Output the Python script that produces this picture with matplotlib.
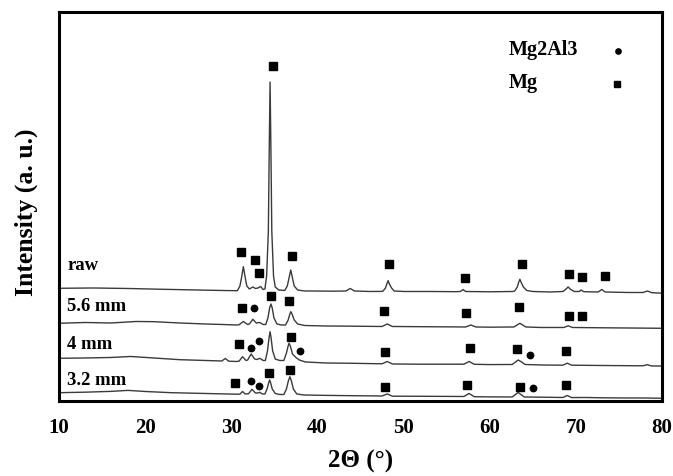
import matplotlib
matplotlib.use("Agg")
import matplotlib.pyplot as plt

plt.rcParams['font.family'] = ['Liberation Serif', 'DejaVu Serif']
plt.rcParams['font.weight'] = 'bold'

# XRD traces: 2theta (deg) and intensity (a.u., stacked)
raw_2t = [10, 14, 18, 22, 26, 29, 30.5, 30.7, 31.0, 31.2, 31.4, 31.6, 31.8, 32.1,
          32.5, 32.8, 33.1, 33.4, 33.7, 33.9, 34.1, 34.3, 34.4, 34.5, 34.6, 34.7,
          34.9, 35.1, 35.5, 36.2, 36.5, 36.7, 36.9, 37.1, 37.3, 37.7, 38.5, 39, 42,
          43.3, 43.8, 44.3, 46, 47.5, 47.6, 47.9, 48.05, 48.2, 48.35, 48.6, 48.9, 50,
          53, 56, 56.6, 56.9, 57.2, 60, 62.7, 62.9, 63.2, 63.35, 63.5, 63.65, 63.9,
          64.3, 65, 67, 68.5, 68.8, 69.1, 69.4, 69.8, 70.4, 70.6, 70.9, 72.6, 73.0,
          73.4, 76, 77.8, 78.3, 78.8, 80]
raw_int = [112.7, 113, 112.5, 111.7, 111, 110.5, 110.3, 110.3, 115, 124, 134.3, 124,
           115, 112, 114, 112.5, 113, 114.5, 111.5, 112, 125, 170, 250, 319, 250, 170,
           125, 114, 111, 110.5, 115, 123, 131, 123, 115, 111, 110, 110, 109.8,
           110, 112.5, 110, 109.5, 109.6, 109.8, 113, 117, 120.3, 117, 113, 110, 109.5,
           109.5, 109.3, 109.5, 111.5, 109.5, 109.2, 109.5, 110, 114, 118.5, 121.7,
           118.5, 114, 110.5, 109.5, 109, 109.5, 111.5, 114, 111.5, 109.5, 109.5, 111,
           109.3, 109, 111.5, 109, 108.5, 108.5, 110, 108.3, 107.8]

mm56_2t = [10, 13, 16, 19, 21, 24, 27, 29, 30.5, 30.9, 31.4, 31.9, 32.1, 32.5, 32.9,
           33.3, 33.7, 34.0, 34.25, 34.45, 34.6, 34.75, 34.95, 35.3, 35.8, 36.3, 36.6,
           36.8, 36.9, 37.05, 37.3, 37.7, 38.5, 41, 44, 47.5, 48.1, 48.7, 52, 57.2,
           57.8, 58.4, 60, 62.8, 63.5, 64.2, 66, 68.6, 69.1, 69.6, 73, 76, 80]
mm56_int = [77.7, 78.5, 78, 79.5, 79.3, 78, 77, 76.5, 76, 76.2, 79.5, 76.5, 77, 81.7,
            78, 78.5, 76.5, 76.5, 83, 93, 97, 93, 83, 77, 76, 76, 81, 87, 89.3, 87, 81,
            77, 75.5, 75, 74.8, 74.5, 77, 74.5, 74.3, 74, 76, 74, 73.8, 74, 77.7, 74,
            73.5, 73.5, 75.2, 73.5, 73.2, 73, 72.7]

mm4_2t = [10, 13, 16, 18.3, 21, 24, 27, 28.9, 29.3, 29.7, 30.6, 30.9, 31.3, 31.7,
          31.9, 32.3, 32.7, 33.0, 33.3, 33.7, 33.95, 34.2, 34.38, 34.5, 34.62, 34.8,
          35.1, 35.6, 36.1, 36.4, 36.6, 36.7, 36.85, 37.1, 37.5, 37.9, 38.6, 41, 44,
          47.5, 48.1, 48.7, 52, 57, 57.6, 58.2, 60, 62.6, 63.0, 63.3, 63.6, 64.1, 66,
          68.5, 69, 69.5, 73, 76, 77.8, 78.3, 78.8, 80]
mm4_int = [42.7, 43, 43.5, 44.5, 43, 41.3, 40.5, 40, 42.5, 39.8, 39.5, 39.8, 44.3,
           40.5, 41, 47, 42, 41.5, 42.7, 40.5, 40.5, 50, 63, 69.3, 63, 50, 42, 40.5,
           40.5, 48, 55, 57.7, 55, 47, 43.5, 41, 39, 38, 37.7, 37.2, 39.5, 37, 36.8,
           36.8, 39.5, 36.7, 36.4, 36.5, 39, 41, 39.5, 36.5, 36, 35.8, 37.8, 35.8,
           35.5, 35.3, 35.2, 36.3, 35, 35]

mm32_2t = [10, 13, 16, 18, 20, 23, 26, 28.5, 30.5, 31.0, 31.3, 31.6, 32.0, 32.4,
           32.8, 33.1, 33.3, 33.6, 33.9, 34.15, 34.33, 34.45, 34.57, 34.75, 35.1,
           35.6, 36.1, 36.4, 36.62, 36.8, 36.98, 37.2, 37.6, 38.4, 41, 44, 47.5, 48.1,
           48.7, 52, 57, 57.6, 58.2, 60, 62.6, 63.3, 64.0, 66, 68.5, 69, 69.5, 71, 73,
           76, 78, 80]
mm32_int = [8.3, 8.8, 9.6, 10.6, 9.5, 8.3, 7.7, 7.2, 6.8, 6.8, 9.5, 7, 7.2, 11.7, 8,
            8, 8.7, 7, 7, 12, 18, 21, 18, 12, 7.5, 6.5, 6.5, 12, 20, 24.3, 20, 12, 7,
            6, 5.6, 5.3, 5, 7, 4.8, 4.7, 4.5, 7.5, 4.3, 4.1, 4, 8.5, 4, 3.8, 3.5, 5.5,
            3.4, 3.5, 3.2, 3, 3, 2.7]

trace_names = ["raw", "5.6 mm", "4 mm", "3.2 mm"]
label_y = [135, 94, 56, 20]

# phase markers (2theta, height)
mg_2t = [31.16, 32.71, 33.26, 34.80, 37.06, 48.29, 57.13, 63.76, 69.19, 70.70, 73.34,
         31.24, 34.62, 36.71, 47.71, 57.21, 63.45, 69.19, 70.70,
         30.85, 36.94, 47.83, 57.71, 63.14, 68.87,
         30.47, 34.42, 36.86, 47.83, 57.33, 63.49, 68.91]
mg_y = [149, 141, 127.7, 335, 145, 136.7, 123.3, 136.7, 127, 124.3, 125.3,
        93.3, 105, 100.3, 90, 88.3, 93.7, 85, 85,
        56.7, 64.3, 49.3, 53.3, 51.7, 50.3,
        17.7, 28.3, 31, 14.3, 16, 14.3, 16]
mg2al3_2t = [32.67, 32.29, 33.26, 38.02, 64.73, 32.29, 33.17, 65.03]
mg2al3_y = [93.3, 52.7, 60, 50, 46.3, 20, 15.3, 13.3]

fig = plt.figure(figsize=(6.73, 4.76), dpi=100)
ax = fig.add_axes([0.0877, 0.1576, 0.8960, 0.8172])

for xs, ys in [(raw_2t, raw_int), (mm56_2t, mm56_int), (mm4_2t, mm4_int), (mm32_2t, mm32_int)]:
    ax.plot(xs, ys, color='#3a3a3a', lw=1.0)

for name, yy in zip(trace_names, label_y):
    ax.text(10.95, yy, name, fontsize=13.4, fontweight='bold', va='center', ha='left')

ax.plot(mg_2t, mg_y, 's', color='black', ms=5.8, ls='none')
ax.plot(mg2al3_2t, mg2al3_y, 'o', color='black', ms=4.6, ls='none')

# legend drawn by hand: text on the left, symbol on the right
ax.text(0.745, 0.902, "Mg2Al3", transform=ax.transAxes, fontsize=14.5,
        fontweight='bold', va='center', ha='left')
ax.text(0.745, 0.817, "Mg", transform=ax.transAxes, fontsize=14.5,
        fontweight='bold', va='center', ha='left')
ax.plot([0.927], [0.900], 'o', color='black', ms=3.8, transform=ax.transAxes)
ax.plot([0.925], [0.816], 's', color='black', ms=4.6, transform=ax.transAxes)

ax.set_xlim(10, 80)
ax.set_ylim(0, 389)
ax.set_xticks([10, 20, 30, 40, 50, 60, 70, 80])
ax.set_yticks([])
ax.tick_params(axis='x', length=0, pad=12, labelsize=15)
for lab in ax.get_xticklabels():
    lab.set_fontweight('bold')
for sp in ax.spines.values():
    sp.set_linewidth(2.2)

ax.set_xlabel("2Θ (°)", fontsize=18, fontweight='bold', labelpad=9)
ax.set_ylabel("Intensity (a. u.)", fontsize=18.5, fontweight='bold', labelpad=15, y=0.485)

fig.savefig("out.png", dpi=100)
